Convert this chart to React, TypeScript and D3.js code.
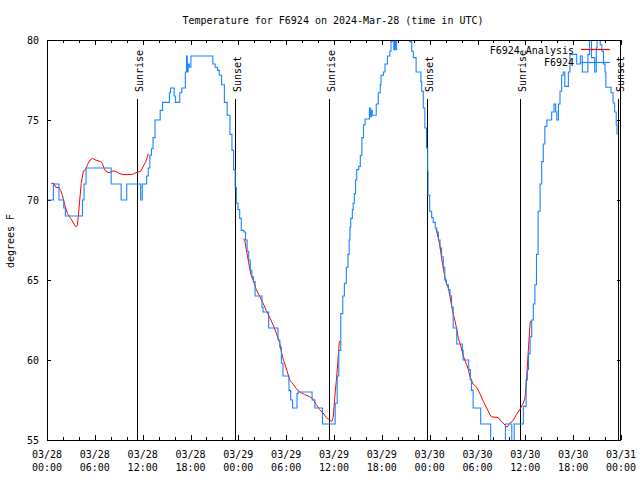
import React from "react";
import * as d3 from "d3";

const title = "Temperature for F6924 on 2024-Mar-28 (time in UTC)";
const yLabel = "degrees F";
const startDate = Date.UTC(2024, 2, 28, 0, 0);
const endDate = Date.UTC(2024, 2, 31, 0, 0);
const yTicks = [55, 60, 65, 70, 75, 80];
const seriesNames = ["F6924 Analysis", "F6924"];

// hours since 2024-03-28 00:00 UTC
const sunEvents: [string, number][] = [
  ["Sunrise", 11.33], ["Sunset", 23.62], ["Sunrise", 35.41],
  ["Sunset", 47.7], ["Sunrise", 59.37], ["Sunset", 71.68],
];

// observations (hour, degF), each value holds until the next one
const obs: [number, number][] = [
  [0, 70], [0.8, 71], [1.5, 70], [2.1, 69.5], [2.3, 69], [4.45, 70], [4.65, 71], [4.9, 72],
  [8.05, 71], [9.3, 70], [10.0, 71], [11.75, 70], [11.95, 71], [12.5, 71.5], [12.7, 72],
  [12.9, 72.8], [13.1, 73.2], [13.3, 73.9], [13.55, 75], [14.2, 75.6], [14.5, 76.1],
  [15.35, 76.7], [15.5, 77], [15.95, 76.5], [16.1, 76.1], [16.65, 76.7], [16.9, 77],
  [17.35, 78], [17.5, 79], [17.6, 78], [17.7, 78.5], [17.85, 78.3], [18.05, 79],
  [20.8, 78.5], [21.1, 78.3], [21.4, 78.1], [21.6, 77.8], [21.9, 77.2], [22.25, 76.1],
  [22.6, 75.3], [22.95, 74.1], [23.2, 73.1], [23.4, 71.9], [23.6, 70.8], [23.75, 69.8],
  [23.96, 69.4], [24.17, 68.85], [24.37, 68.1], [24.7, 68], [24.9, 67.5], [25.1, 66.8],
  [25.3, 66.25], [25.5, 65.6], [25.7, 65.2], [25.9, 64.9], [26.1, 64], [26.97, 63.3],
  [27.1, 63], [27.8, 62], [28.98, 61.25], [29.2, 60.8], [29.4, 59.8], [29.6, 59],
  [30.35, 58.1], [30.57, 57.5], [30.8, 57], [31.36, 57.9], [31.5, 58], [33.25, 57.5],
  [33.6, 57], [34.55, 56], [36.15, 57.3], [36.4, 59], [36.6, 60.6], [36.85, 62.9],
  [37.1, 64], [37.3, 64.8], [37.55, 65.8], [37.75, 66.6], [37.9, 67.5], [38.0, 68.3],
  [38.1, 68.85], [38.3, 69.4], [38.4, 69.8], [38.55, 70.4], [38.7, 71.25], [38.85, 71.9],
  [39.1, 72.1], [39.3, 72.8], [39.5, 73.9], [39.7, 74.7], [39.9, 75.06], [40.45, 75.75],
  [40.6, 75.2], [40.7, 75.6], [40.8, 75.3], [41.3, 76], [41.55, 76.7], [41.8, 77.2],
  [41.9, 77.8], [42.2, 78], [42.4, 78.5], [42.7, 79], [43.0, 79.3], [43.15, 79.9],
  [43.3, 80.6], [43.5, 79.4], [43.6, 80.6], [43.75, 79.4], [43.85, 80.6], [45.4, 80.2],
  [45.5, 79.9], [45.75, 79.3], [45.95, 78.9], [46.3, 78], [46.9, 77.4], [47.0, 76.8],
  [47.2, 75.75], [47.4, 74.5], [47.6, 73.25], [47.75, 71.8], [47.8, 70.3], [48.0, 69.3],
  [48.25, 68.9], [48.45, 68.6], [48.7, 68.25], [48.9, 68], [49.1, 67.5], [49.3, 67],
  [49.5, 66.45], [49.7, 65.8], [49.9, 65], [50.1, 64.7], [50.35, 64.4], [50.55, 64],
  [50.75, 63.3], [50.95, 62], [51.4, 61], [52.1, 60.6], [52.2, 60], [52.9, 59.4],
  [53.1, 58.75], [53.25, 58.1], [53.45, 57], [54.4, 56], [55.65, 54.5], [57.5, 56],
  [58.3, 54.5], [58.6, 56], [59.75, 57.1], [60.1, 58.75], [60.25, 59.4], [60.4, 60.4],
  [60.6, 61.45], [60.8, 62.5], [61.0, 63.5], [61.2, 64.7], [61.4, 66.6], [61.6, 69.3],
  [61.85, 71], [62.05, 72.4], [62.25, 73.5], [62.45, 74.6], [62.7, 75], [63.3, 75.5],
  [63.6, 76], [63.8, 75.5], [63.95, 75], [64.15, 76], [64.35, 76.8], [64.55, 77.8],
  [64.75, 78], [64.95, 77.1], [65.4, 78], [65.6, 79.1], [66.45, 78.5], [66.9, 79],
  [67.15, 78], [67.85, 79.1], [68.05, 80.5], [68.3, 78.9], [68.7, 78], [68.9, 79.5],
  [69.0, 80.5], [69.4, 79.7], [69.6, 79.3], [69.8, 78.5], [70.0, 78], [70.1, 77.05],
  [70.75, 76.7], [71.0, 76.06], [71.2, 75.5], [71.4, 74.7], [71.5, 74.1],
];

// analysis (hour, degF), three separate pieces
const analysis1: [number, number][] = [
  [0.54, 71.04], [0.88, 71.04], [1.09, 70.8], [1.5, 70.77], [1.72, 70.6], [1.92, 70.3],
  [2.13, 69.9], [2.34, 69.5], [2.55, 69.17], [2.97, 68.85], [3.39, 68.5], [3.6, 68.33],
  [3.8, 68.4], [3.93, 68.96], [4.14, 70.2], [4.3, 71.04], [4.55, 71.8], [4.85, 71.9],
  [5.06, 72.2], [5.4, 72.5], [5.7, 72.6], [6.1, 72.5], [6.73, 72.4], [6.94, 72.3],
  [7.15, 71.98], [7.36, 71.8], [7.78, 71.7], [8.2, 71.8], [8.6, 71.8], [9.03, 71.67],
  [9.45, 71.6], [10.7, 71.6], [11.13, 71.7], [11.75, 71.8], [11.95, 71.98], [12.17, 72.2],
  [12.38, 72.4], [12.58, 72.7], [12.7, 72.9],
];
const analysis2: [number, number][] = [
  [24.6, 67.6], [24.8, 67.5], [25.0, 66.9], [25.2, 66.35], [25.4, 65.8], [25.6, 65.3],
  [25.85, 65.0], [26.05, 64.7], [26.25, 64.4], [26.7, 63.96], [27.1, 63.55], [27.5, 63.1],
  [27.9, 62.7], [28.35, 62.2], [28.75, 61.7], [29.2, 61.05], [29.4, 60.5], [29.6, 60.1],
  [30.0, 59.5], [30.45, 58.75], [30.85, 58.5], [31.3, 58.2], [31.7, 58.0], [32.3, 57.85],
  [32.95, 57.7], [33.4, 57.55], [33.8, 57.2], [34.2, 56.9], [34.6, 56.7], [35.05, 56.4],
  [35.45, 56.25], [35.7, 56.15], [35.9, 56.4], [36.1, 57.7], [36.3, 58.75], [36.5, 60.0],
  [36.65, 61.05], [36.75, 61.2],
];
const analysis3: [number, number][] = [
  [48.8, 68.2], [49.1, 67.6], [49.3, 67.1], [49.5, 66.35], [49.7, 65.8], [49.9, 65.2],
  [50.1, 64.8], [50.35, 64.5], [50.55, 63.96], [50.75, 63.4], [50.95, 62.9], [51.2, 62.4],
  [51.4, 61.9], [51.6, 61.35], [51.8, 61.05], [52.0, 60.7], [52.2, 60.3], [52.4, 60],
  [52.65, 59.7], [52.85, 59.4], [53.05, 58.96], [53.45, 58.5], [53.9, 58.3], [54.3, 57.9],
  [54.7, 57.45], [55.15, 57], [55.55, 56.6], [55.75, 56.45], [56.6, 56.4], [57.0, 56.15],
  [57.45, 55.94], [57.7, 55.8], [58.05, 56.05], [58.45, 56.2], [58.9, 56.6], [59.3, 56.9],
  [59.7, 57.25], [59.95, 57.6], [60.15, 58.75], [60.35, 60.4], [60.6, 62.3], [60.7, 62.45],
];

const RED = "#ff0000";
const BLUE = "#1a84ff";
const FONT = "'DejaVu Sans Mono', monospace";

export default function App() {
  const L = 47, R = 621, T = 40, B = 440;
  const x = d3.scaleUtc().domain([new Date(startDate), new Date(endDate)]).range([L, R]);
  const y = d3.scaleLinear().domain([55, 80]).range([B, T]);
  const hx = (h: number) => x(new Date(startDate + h * 3600000));

  const redLine = d3.line<[number, number]>().x((d) => hx(d[0])).y((d) => y(d[1]));
  const blueLine = d3
    .line<[number, number]>()
    .x((d) => hx(d[0]))
    .y((d) => y(d[1]))
    .curve(d3.curveStepAfter);

  const minorTicks = x.ticks(d3.utcHour.every(2) as any);
  const majorTicks = x.ticks(d3.utcHour.every(6) as any);
  const fmtDate = d3.utcFormat("%m/%d");
  const fmtTime = d3.utcFormat("%H:%M");

  return (
    <svg
      width={640}
      height={480}
      style={{ position: "absolute", left: 0, top: 0, background: "#fff" }}
      fontFamily={FONT}
      fontSize={10}
    >
      <rect x={0} y={0} width={640} height={480} fill="#fff" />
      <defs>
        <clipPath id="plot">
          <rect x={L} y={T} width={R - L} height={B - T} />
        </clipPath>
      </defs>
      <text x={333} y={20} textAnchor="middle" dominantBaseline="central">
        {title}
      </text>
      <text
        transform={`translate(13.5,241) rotate(-90)`}
        textAnchor="middle"
        dominantBaseline="auto"
      >
        {yLabel}
      </text>

      {/* y ticks */}
      {yTicks.map((v) => (
        <g key={"y" + v}>
          <line x1={L} x2={L + 4} y1={Math.round(y(v)) + 0.5} y2={Math.round(y(v)) + 0.5} stroke="#000" />
          <line x1={R - 4} x2={R} y1={Math.round(y(v)) + 0.5} y2={Math.round(y(v)) + 0.5} stroke="#000" />
          <text x={39} y={y(v)} textAnchor="end" dominantBaseline="central">
            {v}
          </text>
        </g>
      ))}

      {/* x ticks */}
      {minorTicks.map((d, i) => {
        const isMajor = d.getUTCHours() % 6 === 0;
        const len = isMajor ? 5 : 3;
        const px = Math.round(x(d)) + 0.5;
        return (
          <g key={"xt" + i}>
            <line x1={px} x2={px} y1={B} y2={B - len} stroke="#000" />
            <line x1={px} x2={px} y1={T} y2={T + len} stroke="#000" />
          </g>
        );
      })}
      {majorTicks.map((d, i) => (
        <g key={"xl" + i}>
          <text x={x(d)} y={454} textAnchor="middle" dominantBaseline="central">
            {fmtDate(d)}
          </text>
          <text x={x(d)} y={467} textAnchor="middle" dominantBaseline="central">
            {fmtTime(d)}
          </text>
        </g>
      ))}

      {/* sunrise / sunset */}
      {sunEvents.map(([label, h], i) => {
        const px = Math.round(hx(h)) + 0.5;
        return (
          <g key={"sun" + i}>
            <line x1={px} x2={px} y1={99} y2={B} stroke="#000" />
            <text transform={`translate(${px + 5.5},92) rotate(-90)`} textAnchor="start">
              {label}
            </text>
          </g>
        );
      })}

      {/* data */}
      <g clipPath="url(#plot)" fill="none">
        {[analysis1, analysis2, analysis3].map((seg, i) => (
          <path key={"a" + i} d={redLine(seg) || ""} stroke={RED} strokeWidth={1} />
        ))}
        <path d={blueLine(obs) || ""} stroke={BLUE} strokeWidth={1.1} />
      </g>

      {/* legend */}
      <text x={574} y={50} textAnchor="end" dominantBaseline="central">
        {seriesNames[0]}
      </text>
      <line x1={581} x2={610} y1={49.5} y2={49.5} stroke={RED} strokeWidth={1.2} />
      <text x={574} y={62.5} textAnchor="end" dominantBaseline="central">
        {seriesNames[1]}
      </text>
      <line x1={581} x2={610} y1={62.5} y2={62.5} stroke={BLUE} strokeWidth={1.2} />

      {/* border */}
      <rect x={L + 0.5} y={T + 0.5} width={R - L - 1} height={B - T} fill="none" stroke="#000" />
    </svg>
  );
}
